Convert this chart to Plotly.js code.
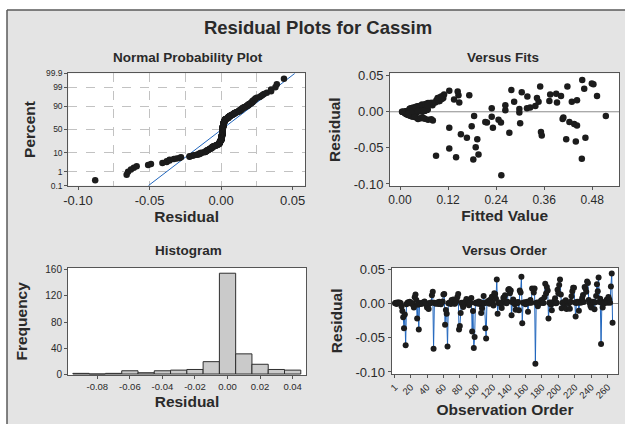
<!DOCTYPE html>
<html><head><meta charset="utf-8">
<script src="https://cdn.plot.ly/plotly-3.0.1.min.js"></script>
<style>html,body{margin:0;padding:0;background:#fff}#chart{width:625px;height:424px}</style>
</head><body><div id="chart"></div>
<script>
// Residuals in observation order (read from the Versus Order / Versus Fits panels)
const residuals = [
 0.0005, 0.0010, -0.0008, 0.0015, 0.0010, 0.0015, 0.0012, 0.0004, -0.0045, -0.011,
 -0.020, -0.036, -0.016, -0.061, -0.0010, 0.0006, 0.0018, 0.0012, 0.0025, 0.0011,
 -0.0004, 0.0002, -0.0015, -0.0060, 0.0090, 0.013, 0.0050, -0.022, -0.0020, -0.038,
 0.0008, -0.0006, 0.0003, -0.0002, 0.0014, 0.0011, 0.0028, 0.0007, -0.0012, -0.006,
 -0.0035, -0.0080, 0.0009, 0.0002, 0.0013, 0.0120, 0.017, -0.066, 0.0010, 0.0004,
 -0.0003, 0.0012, 0.0016, -0.0007, 0.0024, 0.0006, -0.0011, 0.0019, 0.0030, 0.0130,
 0.014, -0.031, -0.0095, -0.015, -0.063, 0.0005, 0.0009, 0.0013, -0.0008, 0.005,
 0.0012, 0.0060, 0.0001, -0.0005, 0.0017, 0.0045, 0.0095, 0.014, -0.038, -0.033,
 -0.014, 0.0011, -0.0013, -0.0050, 0.0015, 0.0003, 0.0026, 0.0065, 0.0008, 0.002,
 -0.0025, 0.0004, 0.0010, 0.008, -0.041, -0.0110, -0.065, -0.049, 0.0006, 0.0014,
 0.0001, 0.0010, 0.0030, -0.0009, 0.0018, -0.014, -0.0070, 0.0009, 0.0110, 0.0005,
 -0.036, -0.051, 0.0022, 0.0012, 0.004, -0.0004, 0.0055, 0.0016, 0.0100, 0.0010,
 -0.0030, 0.0150, 0.014, 0.0070, 0.035, -0.015, 0.0007, 0.0013, -0.0002, 0.0011,
 -0.0065, 0.0009, 0.0085, 0.009, 0.0120, 0.0011, 0.0005, 0.0025, 0.0200, 0.021,
 0.015, 0.0190, -0.017, 0.0019, 0.0060, 0.0006, -0.0010, -0.0090, 0.0015, 0.0003,
 0.0022, -0.010, 0.0190, 0.016, 0.039, -0.029, 0.0012, 0.0008, 0.0017, -0.001,
 0.0004, 0.0024, -0.0120, 0.0014, 0.0010, 0.0050, 0.0010, 0.022, 0.0210, 0.0160,
 0.022, -0.088, 0.0006, 0.0013, -0.0040, 0.0003, 0.0018, 0.0009, 0.0042, 0.005,
 0.0011, 0.0007, 0.0090, 0.029, 0.0145, 0.0240, 0.019, -0.022, 0.0012, 0.0013,
 -0.0018, -0.0100, 0.0016, 0.0011, 0.0030, 0.0075, 0.0005, 0.0010, 0.0200, 0.0150,
 0.027, 0.035, 0.013, -0.007, 0.0010, 0.0017, -0.0055, 0.0006, 0.0048, -0.008,
 0.0013, 0.0011, 0.0004, -0.0075, 0.0026, 0.0105, 0.0180, 0.023, 0.023, 0.0015,
 -0.019, 0.0008, 0.0025, 0.0019, -0.0105, 0.0011, 0.0032, 0.0016, 0.0080, 0.0125,
 0.0022, 0.024, 0.0220, 0.0170, 0.032, 0.030, 0.0052, 0.0012, -0.0032, -0.006,
 0.0007, 0.0024, 0.0014, -0.0085, 0.0018, 0.0110, 0.028, 0.0180, 0.038, 0.0021,
 0.0070, -0.059, 0.0009, -0.0060, 0.0013, 0.0005, 0.0026, 0.0019, 0.0058, 0.0010,
 0.0095, 0.006, 0.0010, 0.025, 0.044, -0.028
];
// Fitted values, same order
const fittedValues = [
 0.012, 0.018, 0.025, 0.031, 0.040, 0.052, 0.046, 0.035, 0.020, 0.246,
 0.179, 0.167, 0.300, 0.090, 0.022, 0.015, 0.028, 0.044, 0.058, 0.037,
 0.020, 0.005, 0.033, 0.028, 0.081, 0.148, 0.035, 0.123, 0.012, 0.193,
 0.042, 0.027, 0.016, 0.007, 0.038, 0.049, 0.063, 0.030, 0.024, 0.185,
 0.016, 0.040, 0.033, 0.019, 0.056, 0.075, 0.135, 0.183, 0.039, 0.027,
 0.014, 0.032, 0.047, 0.023, 0.060, 0.041, 0.036, 0.050, 0.068, 0.088,
 0.285, 0.152, 0.062, 0.217, 0.140, 0.021, 0.029, 0.043, 0.034, 0.229,
 0.054, 0.042, 0.017, 0.026, 0.048, 0.030, 0.060, 0.346, 0.415, 0.354,
 0.213, 0.038, 0.030, 0.025, 0.045, 0.019, 0.066, 0.050, 0.040, 0.263,
 0.015, 0.024, 0.036, 0.338, 0.439, 0.070, 0.454, 0.189, 0.031, 0.044,
 0.006, 0.057, 0.067, 0.028, 0.051, 0.423, 0.034, 0.039, 0.066, 0.035,
 0.463, 0.123, 0.061, 0.047, 0.298, 0.022, 0.038, 0.053, 0.055, 0.042,
 0.018, 0.099, 0.429, 0.046, 0.418, 0.252, 0.034, 0.049, 0.025, 0.059,
 0.030, 0.037, 0.052, 0.263, 0.070, 0.046, 0.029, 0.063, 0.106, 0.318,
 0.373, 0.094, 0.435, 0.055, 0.033, 0.032, 0.041, 0.052, 0.050, 0.023,
 0.060, 0.406, 0.108, 0.442, 0.479, 0.273, 0.044, 0.036, 0.052, 0.298,
 0.027, 0.064, 0.082, 0.048, 0.039, 0.027, 0.057, 0.402, 0.103, 0.091,
 0.492, 0.253, 0.033, 0.045, 0.022, 0.028, 0.054, 0.040, 0.024, 0.317,
 0.058, 0.035, 0.058, 0.123, 0.096, 0.110, 0.342, 0.232, 0.047, 0.062,
 0.038, 0.045, 0.051, 0.043, 0.068, 0.044, 0.030, 0.056, 0.100, 0.092,
 0.304, 0.350, 0.392, 0.229, 0.041, 0.053, 0.026, 0.034, 0.031, 0.408,
 0.046, 0.059, 0.026, 0.055, 0.063, 0.063, 0.105, 0.146, 0.173, 0.048,
 0.442, 0.037, 0.065, 0.055, 0.078, 0.042, 0.069, 0.050, 0.048, 0.080,
 0.061, 0.375, 0.107, 0.095, 0.460, 0.278, 0.036, 0.044, 0.021, 0.514,
 0.036, 0.064, 0.049, 0.058, 0.052, 0.072, 0.144, 0.104, 0.483, 0.060,
 0.040, 0.196, 0.040, 0.037, 0.047, 0.031, 0.066, 0.054, 0.039, 0.043,
 0.068, 0.325, 0.058, 0.390, 0.455, 0.352
];
// Histogram (bin centres and frequencies)
const histBinCenters = [-0.09, -0.08, -0.07, -0.06, -0.05, -0.04, -0.03, -0.02, -0.01, 0.00, 0.01, 0.02, 0.03, 0.04];
const histCounts     = [1, 0, 1, 5, 2, 5, 6, 7, 19, 155, 31, 15, 7, 6];

// Tick values / labels
const nppPercentTicks  = [0.1, 1, 10, 50, 90, 99, 99.9];
const nppPercentLabels = ['0.1', '1', '10', '50', '90', '99', '99.9'];
const nppResidTicks    = [-0.10, -0.05, 0.00, 0.05];
const nppResidLabels   = ['-0.10', '-0.05', '0.00', '0.05'];
const nppResidGrid     = [-0.075, -0.05, -0.025, 0.00, 0.025];
const fitTicks         = [0.00, 0.12, 0.24, 0.36, 0.48];
const fitLabels        = ['0.00', '0.12', '0.24', '0.36', '0.48'];
const residTicks       = [0.05, 0.00, -0.05, -0.10];
const residLabels      = ['0.05', '0.00', '-0.05', '-0.10'];
const histXTicks       = [-0.08, -0.06, -0.04, -0.02, 0.00, 0.02, 0.04];
const histXLabels      = ['-0.08', '-0.06', '-0.04', '-0.02', '0.00', '0.02', '0.04'];
const histYTicks       = [0, 40, 80, 120, 160];
const orderTicks       = [1, 20, 40, 60, 80, 100, 120, 140, 160, 180, 200, 220, 240, 260];

// ---------- helpers ----------
function invNorm(p){
  const a=[-3.969683028665376e+01,2.209460984245205e+02,-2.759285104469687e+02,1.383577518672690e+02,-3.066479806614716e+01,2.506628277459239e+00];
  const b=[-5.447609879822406e+01,1.615858368580409e+02,-1.556989798598866e+02,6.680131188771972e+01,-1.328068155288572e+01];
  const c=[-7.784894002430293e-03,-3.223964580411365e-01,-2.400758277161838e+00,-2.549732539343734e+00,4.374664141464968e+00,2.938163982698783e+00];
  const d=[7.784695709041462e-03,3.224671290700398e-01,2.445134137142996e+00,3.754408661907416e+00];
  const pl=0.02425, ph=1-pl; let q, r;
  if(p<pl){q=Math.sqrt(-2*Math.log(p));return (((((c[0]*q+c[1])*q+c[2])*q+c[3])*q+c[4])*q+c[5])/((((d[0]*q+d[1])*q+d[2])*q+d[3])*q+1);}
  if(p<=ph){q=p-0.5;r=q*q;return (((((a[0]*r+a[1])*r+a[2])*r+a[3])*r+a[4])*r+a[5])*q/(((((b[0]*r+b[1])*r+b[2])*r+b[3])*r+b[4])*r+1);}
  q=Math.sqrt(-2*Math.log(1-p));return -(((((c[0]*q+c[1])*q+c[2])*q+c[3])*q+c[4])*q+c[5])/((((d[0]*q+d[1])*q+d[2])*q+d[3])*q+1);
}
const W = 625, H = 424;
const px = v => v / W;
const py = v => 1 - v / H;

const n = residuals.length;
const obsIndex = residuals.map((_, i) => i + 1);
const sorted = residuals.slice().sort((u, v) => u - v);
const nppZ = sorted.map((_, i) => invNorm((i + 1 - 0.3) / (n + 0.4)));
const mean = residuals.reduce((s, v) => s + v, 0) / n;
const sd = Math.sqrt(residuals.reduce((s, v) => s + (v - mean) * (v - mean), 0) / (n - 1));
const zEdge = invNorm(0.999);
const lineZ = [-zEdge, zEdge];
const lineX = lineZ.map(z => mean + z * sd);

const FONT = 'Liberation Sans, Arial, sans-serif';
const TXT = '#2a2a2a';
const BLUE = '#2166bd';
const DOT = '#1c1c1c';

const axBase = {
  showline: true, mirror: true, linecolor: '#555', linewidth: 1,
  ticks: 'outside', ticklen: 3, tickcolor: '#555', tickwidth: 1,
  zeroline: false, showgrid: false, fixedrange: true, automargin: false,
  tickfont: {family: FONT, size: 13, color: TXT}
};
const titleFont = {family: FONT, size: 15.5, weight: 'bold', color: TXT};
function ax(extra){ return Object.assign({}, axBase, extra); }

const traces = [
  // Normal probability plot
  {x: lineX, y: lineZ, xaxis: 'x', yaxis: 'y', mode: 'lines', line: {color: BLUE, width: 1}, hoverinfo: 'skip'},
  {x: sorted, y: nppZ, xaxis: 'x', yaxis: 'y', mode: 'markers', marker: {color: DOT, size: 6.5}},
  // Versus fits
  {x: fittedValues, y: residuals, xaxis: 'x2', yaxis: 'y2', mode: 'markers', marker: {color: DOT, size: 6.5}},
  // Histogram
  {x: histBinCenters, y: histCounts, xaxis: 'x3', yaxis: 'y3', type: 'bar', width: 0.01,
   marker: {color: '#cacaca', line: {color: '#2e2e2e', width: 1}}},
  // Versus order
  {x: obsIndex, y: residuals, xaxis: 'x4', yaxis: 'y4', mode: 'lines+markers',
   line: {color: BLUE, width: 1}, marker: {color: DOT, size: 6}}
];

const layout = {
  width: W, height: H,
  margin: {l: 0, r: 0, t: 0, b: 0},
  paper_bgcolor: '#e4e4e4', plot_bgcolor: '#ffffff',
  showlegend: false, bargap: 0,
  font: {family: FONT, color: TXT},
  title: {text: 'Residual Plots for Cassim', x: px(318), xanchor: 'center', y: py(28), yanchor: 'middle',
          font: {family: FONT, size: 18.5, weight: 'bold', color: TXT}},
  // Normal probability plot
  xaxis: ax({domain: [px(68.3), px(305)], anchor: 'y', range: [-0.1068, 0.0587],
    tickvals: nppResidTicks, ticktext: nppResidLabels,
    minor: {tickvals: nppResidGrid, showgrid: true, gridcolor: '#c2c2c2', griddash: 'dash', gridwidth: 1, ticks: ''},
    title: {text: 'Residual', font: titleFont, standoff: 3}}),
  yaxis: ax({domain: [py(185.7), py(73.3)], anchor: 'x', range: [-3.095, 3.095],
    tickvals: nppPercentTicks.map(p => invNorm(p / 100)), ticktext: nppPercentLabels,
    tickfont: {family: FONT, size: 8.5, color: TXT},
    showgrid: true, gridcolor: '#c2c2c2', griddash: 'dash', gridwidth: 1,
    title: {text: 'Percent', font: titleFont, standoff: 6}}),
  // Versus fits
  xaxis2: ax({domain: [px(390), px(619.3)], anchor: 'y2', range: [-0.025, 0.5476],
    tickvals: fitTicks, ticktext: fitLabels, tickfont: {family: FONT, size: 12, color: TXT},
    title: {text: 'Fitted Value', font: titleFont, standoff: 3}}),
  yaxis2: ax({domain: [py(186), py(73.3)], anchor: 'x2', range: [-0.1028, 0.0533],
    tickvals: residTicks, ticktext: residLabels,
    title: {text: 'Residual', font: titleFont, standoff: 9}}),
  // Histogram
  xaxis3: ax({domain: [px(68), px(306)], anchor: 'y3', range: [-0.098, 0.0482],
    tickvals: histXTicks, ticktext: histXLabels, tickfont: {family: FONT, size: 9.5, color: TXT},
    title: {text: 'Residual', font: titleFont, standoff: 4}}),
  yaxis3: ax({domain: [py(375), py(267.7)], anchor: 'x3', range: [-1.5, 163.5],
    tickvals: histYTicks, tickfont: {family: FONT, size: 10, color: TXT},
    title: {text: 'Frequency', font: titleFont, standoff: 13}}),
  // Versus order
  xaxis4: ax({domain: [px(391.7), px(618.3)], anchor: 'y4', range: [-3, 273],
    tickvals: orderTicks, tickangle: -45, tickfont: {family: FONT, size: 9.5, color: TXT},
    title: {text: 'Observation Order', font: titleFont, standoff: 4}}),
  yaxis4: ax({domain: [py(374), py(267.7)], anchor: 'x4', range: [-0.103, 0.0523],
    tickvals: residTicks, ticktext: residLabels,
    title: {text: 'Residual', font: titleFont, standoff: 9}}),
  shapes: [
    {type: 'rect', xref: 'paper', yref: 'paper', x0: 0, x1: 1, y0: py(10), y1: 1, fillcolor: '#ffffff', line: {width: 0}, layer: 'below'},
    {type: 'rect', xref: 'paper', yref: 'paper', x0: 0, x1: px(7), y0: 0, y1: 1, fillcolor: '#ffffff', line: {width: 0}, layer: 'below'},
    {type: 'line', xref: 'paper', yref: 'paper', x0: px(7), x1: 1, y0: py(10), y1: py(10), line: {color: '#5a5a5a', width: 1.5}},
    {type: 'line', xref: 'paper', yref: 'paper', x0: px(7), x1: px(7), y0: py(10), y1: 0, line: {color: '#5a5a5a', width: 1.5}},
    {type: 'line', xref: 'x2 domain', yref: 'y2', x0: 0, x1: 1, y0: 0, y1: 0, line: {color: '#8c8c8c', width: 1}, layer: 'below'},
    {type: 'line', xref: 'x4 domain', yref: 'y4', x0: 0, x1: 1, y0: 0, y1: 0, line: {color: '#8c8c8c', width: 1}, layer: 'below'}
  ],
  annotations: [
    {text: 'Normal Probability Plot', x: px(188), y: py(57)},
    {text: 'Versus Fits', x: px(503), y: py(57.5)},
    {text: 'Histogram', x: px(188), y: py(250.5)},
    {text: 'Versus Order', x: px(504.5), y: py(250.5)}
  ].map(a => Object.assign(a, {xref: 'paper', yref: 'paper', xanchor: 'center', yanchor: 'middle', showarrow: false,
        font: {family: FONT, size: 13.5, weight: 'bold', color: TXT}}))
};

Plotly.newPlot('chart', traces, layout, {staticPlot: true, displayModeBar: false});
</script>
</body></html>
